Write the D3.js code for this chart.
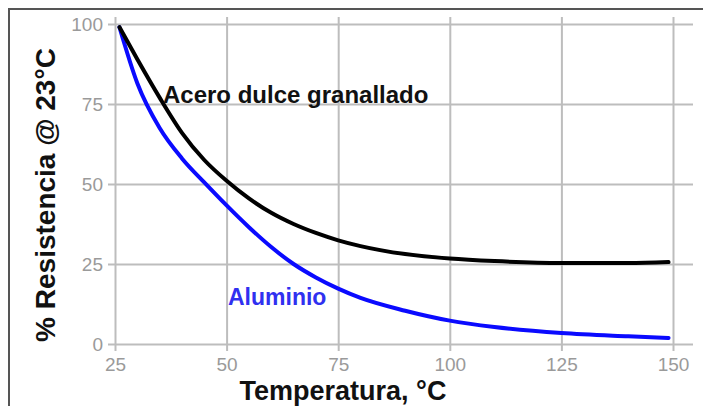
<!DOCTYPE html>
<html><head><meta charset="utf-8">
<script src="https://cdn.jsdelivr.net/npm/d3@7"></script>
<style>html,body{margin:0;padding:0;background:#fff;}svg{display:block;}</style>
</head><body>
<script>
const xTicks = [25, 50, 75, 100, 125, 150];
const yTicks = [0, 25, 50, 75, 100];
const steelT = [26, 30, 35, 40, 45, 50, 55, 60, 65, 70, 75, 80, 90, 100, 110, 125, 140, 149];
const steelR = [99, 89, 77, 66, 57.5, 51, 45.5, 41, 37.5, 34.7, 32.4, 30.6, 28.1, 26.7, 25.9, 25.3, 25.3, 25.6];
const aluT = [26, 30, 35, 40, 45, 50, 55, 60, 65, 70, 75, 80, 90, 100, 110, 125, 140, 149];
const aluR = [99, 81.5, 67.5, 58, 50.5, 43.3, 36.5, 30.3, 25, 20.8, 17.3, 14.4, 10.4, 7.3, 5.3, 3.4, 2.4, 1.9];
const seriesNames = ["Acero dulce granallado", "Aluminio"];
const xTitle = "Temperatura, °C";
const yTitle = "% Resistencia @ 23°C";

(function () {
const W = 703, H = 406;
const svg = d3.select("body").append("svg").attr("width", W).attr("height", H);

const x = d3.scaleLinear().domain([25, 150]).range([115, 673]);
const y = d3.scaleLinear().domain([0, 100]).range([344, 24]);

// frame
svg.append("path").attr("d", `M9,${H} L9,9 L${W},9`).attr("fill", "none")
  .attr("stroke", "#555").attr("stroke-width", 2);

const gridColor = "#bdbdbd";
const gL = 108, gR = 693, gT = 17, gB = 351;

const gy = svg.append("g").attr("transform", `translate(${gL},0)`)
  .call(d3.axisLeft(y).tickValues(yTicks).tickSize(-(gR - gL)).tickPadding(5));
const gx = svg.append("g").attr("transform", `translate(0,${gB})`)
  .call(d3.axisBottom(x).tickValues(xTicks).tickSize(-(gB - gT)).tickPadding(7));
[gx, gy].forEach(g => {
  g.select(".domain").remove();
  g.selectAll(".tick line").attr("stroke", gridColor).attr("stroke-width", 2);
  g.selectAll(".tick text").attr("fill", "#9a9a9a")
    .style("font-family", "'Liberation Sans', Arial, sans-serif").style("font-size", "19px");
});

const line = d3.line().x(d => x(d[0])).y(d => y(d[1])).curve(d3.curveMonotoneX);
const steel = steelT.map((t, i) => [t, steelR[i]]);
const alu = aluT.map((t, i) => [t, aluR[i]]);

svg.append("path").datum(alu).attr("d", line).attr("fill", "none")
  .attr("stroke", "#0a0aff").attr("stroke-width", 4).attr("stroke-linecap", "round");
svg.append("path").datum(steel).attr("d", line).attr("fill", "none")
  .attr("stroke", "#000").attr("stroke-width", 4).attr("stroke-linecap", "round");

const fam = "'Liberation Sans', Arial, sans-serif";
svg.append("text").attr("x", 163).attr("y", 103).text(seriesNames[0])
  .style("font-family", fam).style("font-weight", "bold").style("font-size", "24px").attr("fill", "#111");
svg.append("text").attr("x", 228).attr("y", 305).text(seriesNames[1])
  .style("font-family", fam).style("font-weight", "bold").style("font-size", "23px").attr("fill", "#3030f0");

svg.append("text").attr("x", 343).attr("y", 400).attr("text-anchor", "middle").text(xTitle)
  .style("font-family", fam).style("font-weight", "bold").style("font-size", "27px").attr("fill", "#111");
svg.append("text").attr("transform", "translate(55,195) rotate(-90)").attr("text-anchor", "middle").text(yTitle)
  .style("font-family", fam).style("font-weight", "bold").style("font-size", "28px").attr("fill", "#111");
})();
</script>
</body></html>
